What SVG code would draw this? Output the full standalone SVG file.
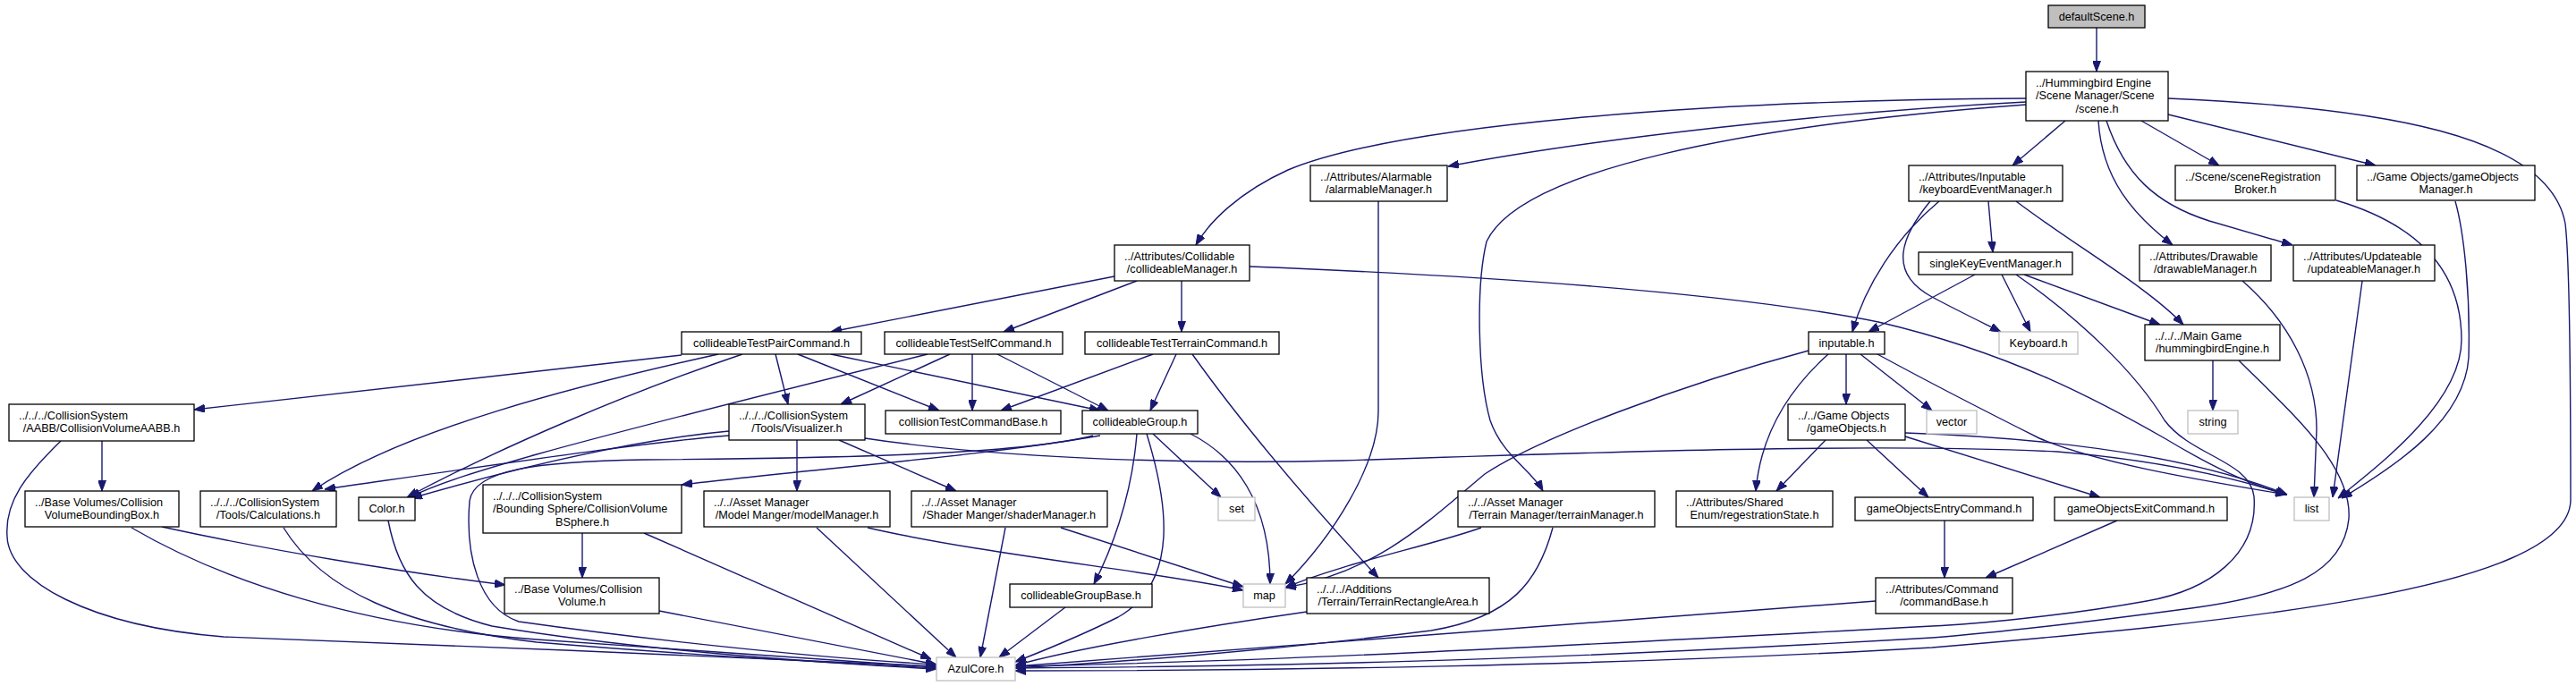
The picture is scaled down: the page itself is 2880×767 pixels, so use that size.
<svg xmlns="http://www.w3.org/2000/svg" width="2880" height="767" viewBox="0 0 2880 767">
<style>
.n rect{fill:#fff;stroke:#000;stroke-width:1.3}
.g rect{fill:#fff;stroke:#bfbfbf;stroke-width:1.3}
.r rect{fill:#bfbfbf;stroke:#000;stroke-width:1.3}
text{font-family:"Liberation Sans",Arial,sans-serif;font-size:12.7px;fill:#000}
.m{text-anchor:middle}
.s{text-anchor:start}
#edges path{fill:none;stroke:#191970;stroke-width:1.4;marker-end:url(#a)}
</style>
<defs>
<marker id="a" viewBox="0 0 12 9" refX="12" refY="4.5" markerWidth="12" markerHeight="9" orient="auto" markerUnits="userSpaceOnUse"><path d="M0,0 L12,4.5 L0,9 z" fill="#191970" stroke="#191970"/></marker>
</defs>
<rect width="2880" height="767" fill="#fff"/>
<g id="edges">
<path d="M2344,31 L2344,80"/>
<path d="M2265,110 C1900,112 1560,140 1440,190 C1385,215 1352,248 1337,274"/>
<path d="M2265,114 C2050,125 1780,155 1619,186"/>
<path d="M2265,117 C1950,140 1700,190 1662,270 C1650,320 1652,420 1666,470 C1680,510 1712,525 1725,549"/>
<path d="M2309,135 L2250,185"/>
<path d="M2346,135 C2350,200 2385,240 2429,274"/>
<path d="M2355,135 C2375,195 2410,228 2470,247 L2563,274"/>
<path d="M2394,135 L2481,185"/>
<path d="M2424,128 L2656,185"/>
<path d="M2424,110 C2660,120 2850,150 2868,250 C2874,300 2874,500 2874,560 C2870,660 2500,695 2160,724 C1800,745 1400,750 1135,750"/>
<path d="M2168,225 C2120,265 2085,320 2071,371"/>
<path d="M2223,225 L2228,282"/>
<path d="M2158,225 C2125,265 2110,305 2160,332 C2190,348 2215,360 2237,371"/>
<path d="M2254,225 C2320,275 2400,320 2441,363"/>
<path d="M2208,307 L2089,371"/>
<path d="M2238,307 L2270,371"/>
<path d="M2263,307 L2415,363"/>
<path d="M2254,307 C2330,360 2390,420 2420,470 C2450,510 2515,515 2520,555 C2525,620 2470,660 2400,672 C2300,690 2200,698 2160,700 C1700,725 1400,740 1135,745"/>
<path d="M2474,403 L2474,459"/>
<path d="M2503,403 C2560,460 2630,520 2626,580 C2620,640 2560,665 2450,680 C2300,700 2200,710 2160,713 C1700,740 1400,745 1135,747"/>
<path d="M2064,396 L2064,452"/>
<path d="M2080,396 L2160,459"/>
<path d="M2099,396 C2180,440 2240,470 2280,490 C2350,520 2480,540 2556,553"/>
<path d="M2022,392 C1880,430 1720,490 1660,530 C1600,580 1540,640 1437,657"/>
<path d="M2044,396 C1995,440 1968,490 1963,549"/>
<path d="M2041,492 L1986,549"/>
<path d="M2087,492 L2156,556"/>
<path d="M2130,488 L2348,556"/>
<path d="M2130,484 C2300,490 2450,510 2557,553"/>
<path d="M1246,309 L929,371"/>
<path d="M1271,314 L1122,371"/>
<path d="M1321,314 L1321,371"/>
<path d="M1397,298 C1700,310 1950,330 2100,360 C2250,395 2350,450 2420,490 C2470,520 2510,540 2556,553"/>
<path d="M867,396 L881,452"/>
<path d="M892,396 L1050,459"/>
<path d="M929,396 L1230,459"/>
<path d="M762,397 L217,458"/>
<path d="M803,396 C650,430 450,480 349,549"/>
<path d="M830,396 C700,440 560,500 455,556"/>
<path d="M1062,396 L940,452"/>
<path d="M1087,396 L1087,459"/>
<path d="M1115,396 L1239,459"/>
<path d="M1037,396 C900,430 700,480 600,508 C540,525 490,540 458,556"/>
<path d="M1289,396 L1119,459"/>
<path d="M1315,396 L1286,459"/>
<path d="M1333,396 C1400,490 1480,580 1541,646"/>
<path d="M891,492 L891,549"/>
<path d="M938,492 L1069,549"/>
<path d="M967,490 C1100,510 1300,520 1500,515 C1800,505 2100,495 2300,505 C2420,515 2500,535 2557,553"/>
<path d="M815,487 C720,495 620,510 363,547"/>
<path d="M815,482 C750,488 640,505 460,557"/>
<path d="M1230,487 C1100,510 900,525 762,542"/>
<path d="M1222,487 C1150,505 1000,512 720,514 C600,516 530,525 525,560 C520,620 535,680 580,695 C700,712 900,735 1047,743"/>
<path d="M1271,485 C1265,560 1240,620 1223,653"/>
<path d="M1282,485 C1305,560 1320,650 1250,690 C1200,715 1160,730 1135,740"/>
<path d="M1289,485 L1365,556"/>
<path d="M1331,485 C1380,510 1420,560 1420,653"/>
<path d="M114,493 L114,549"/>
<path d="M68,493 C30,530 5,560 8,600 C10,650 100,700 250,712 C500,720 800,735 1047,745"/>
<path d="M181,589 C300,615 450,640 565,654"/>
<path d="M147,590 C250,650 400,700 600,715 C800,730 950,740 1047,746"/>
<path d="M317,590 C360,660 450,700 600,718 C800,735 950,742 1047,747"/>
<path d="M434,582 C445,640 470,680 550,700 C700,725 900,740 1047,748"/>
<path d="M651,596 L651,646"/>
<path d="M720,596 L1041,737"/>
<path d="M737,683 L1047,743"/>
<path d="M913,590 L1069,735"/>
<path d="M970,590 C1100,620 1300,640 1390,660"/>
<path d="M1124,590 L1096,735"/>
<path d="M1186,590 L1390,656"/>
<path d="M1191,679 L1117,735"/>
<path d="M1656,590 C1600,610 1500,630 1437,657"/>
<path d="M1736,590 C1720,650 1690,690 1600,705 C1400,730 1250,740 1135,747"/>
<path d="M1461,684 C1350,700 1200,725 1135,744"/>
<path d="M2097,672 C1800,695 1500,715 1135,745"/>
<path d="M2174,582 L2174,646"/>
<path d="M2367,582 L2220,646"/>
<path d="M1541,225 L1541,460 C1541,520 1490,600 1437,653"/>
<path d="M2507,314 C2560,360 2590,420 2590,480 L2587,556"/>
<path d="M2641,314 L2608,556"/>
<path d="M2612,224 C2700,250 2752,300 2752,380 C2752,450 2660,520 2614,557"/>
<path d="M2745,225 C2755,260 2762,330 2760,400 C2755,470 2680,520 2618,557"/>
</g>
<g id="defaultScene" class="r"><rect x="2290" y="6" width="108" height="25"/><text class="m" x="2344" y="22.5">defaultScene.h</text></g>
<g id="scene" class="n"><rect x="2265" y="80" width="159" height="55"/><text class="s" x="2276" y="96.5">../Hummingbird Engine</text><text class="s" x="2276" y="111">/Scene Manager/Scene</text><text class="m" x="2344.5" y="126">/scene.h</text></g>
<g id="collideableManager" class="n"><rect x="1246" y="274" width="151" height="40"/><text class="s" x="1257" y="290.5">../Attributes/Collidable</text><text class="m" x="1321.5" y="305">/collideableManager.h</text></g>
<g id="alarmableManager" class="n"><rect x="1465" y="185" width="153" height="40"/><text class="s" x="1476" y="201.5">../Attributes/Alarmable</text><text class="m" x="1541.5" y="216">/alarmableManager.h</text></g>
<g id="keyboardEventManager" class="n"><rect x="2134" y="185" width="172" height="40"/><text class="s" x="2145" y="201.5">../Attributes/Inputable</text><text class="m" x="2220" y="216">/keyboardEventManager.h</text></g>
<g id="sceneRegistrationBroker" class="n"><rect x="2432" y="185" width="179" height="39"/><text class="s" x="2443" y="201.5">../Scene/sceneRegistration</text><text class="m" x="2521.5" y="216">Broker.h</text></g>
<g id="gameObjectsManager" class="n"><rect x="2635" y="185" width="199" height="39"/><text class="s" x="2646" y="201.5">../Game Objects/gameObjects</text><text class="m" x="2734.5" y="216">Manager.h</text></g>
<g id="drawableManager" class="n"><rect x="2392" y="274" width="147" height="40"/><text class="s" x="2403" y="290.5">../Attributes/Drawable</text><text class="m" x="2465.5" y="305">/drawableManager.h</text></g>
<g id="updateableManager" class="n"><rect x="2564" y="274" width="158" height="40"/><text class="s" x="2575" y="290.5">../Attributes/Updateable</text><text class="m" x="2643" y="305">/updateableManager.h</text></g>
<g id="singleKeyEventManager" class="n"><rect x="2145" y="282" width="172" height="25"/><text class="m" x="2231" y="298.5">singleKeyEventManager.h</text></g>
<g id="inputable" class="n"><rect x="2022" y="371" width="85" height="25"/><text class="m" x="2064.5" y="387.5">inputable.h</text></g>
<g id="Keyboard" class="g"><rect x="2235" y="371" width="88" height="25"/><text class="m" x="2279" y="387.5">Keyboard.h</text></g>
<g id="hummingbirdEngine" class="n"><rect x="2398" y="363" width="151" height="40"/><text class="s" x="2409" y="379.5">../../../Main Game</text><text class="m" x="2473.5" y="394">/hummingbirdEngine.h</text></g>
<g id="string" class="g"><rect x="2446" y="459" width="56" height="26"/><text class="m" x="2474" y="476">string</text></g>
<g id="vector" class="g"><rect x="2154" y="459" width="56" height="26"/><text class="m" x="2182" y="476">vector</text></g>
<g id="gameObjects" class="n"><rect x="1999" y="452" width="131" height="40"/><text class="s" x="2010" y="468.5">../../Game Objects</text><text class="m" x="2064.5" y="483">/gameObjects.h</text></g>
<g id="collideableTestPairCommand" class="n"><rect x="762" y="371" width="201" height="25"/><text class="m" x="862.5" y="387.5">collideableTestPairCommand.h</text></g>
<g id="collideableTestSelfCommand" class="n"><rect x="989" y="371" width="199" height="25"/><text class="m" x="1088.5" y="387.5">collideableTestSelfCommand.h</text></g>
<g id="collideableTestTerrainCommand" class="n"><rect x="1213" y="371" width="217" height="25"/><text class="m" x="1321.5" y="387.5">collideableTestTerrainCommand.h</text></g>
<g id="CollisionVolumeAABB" class="n"><rect x="10" y="452" width="207" height="41"/><text class="s" x="21" y="468.5">../../../CollisionSystem</text><text class="m" x="113.5" y="483">/AABB/CollisionVolumeAABB.h</text></g>
<g id="Visualizer" class="n"><rect x="815" y="452" width="152" height="40"/><text class="s" x="826" y="468.5">../../../CollisionSystem</text><text class="m" x="891" y="483">/Tools/Visualizer.h</text></g>
<g id="collisionTestCommandBase" class="n"><rect x="990" y="459" width="196" height="26"/><text class="m" x="1088" y="476">collisionTestCommandBase.h</text></g>
<g id="collideableGroup" class="n"><rect x="1210" y="459" width="129" height="26"/><text class="m" x="1274.5" y="476">collideableGroup.h</text></g>
<g id="CollisionVolumeBoundingBox" class="n"><rect x="28" y="549" width="172" height="40"/><text class="s" x="39" y="565.5">../Base Volumes/Collision</text><text class="m" x="114" y="580">VolumeBoundingBox.h</text></g>
<g id="Calculations" class="n"><rect x="224" y="549" width="152" height="40"/><text class="s" x="235" y="565.5">../../../CollisionSystem</text><text class="m" x="300" y="580">/Tools/Calculations.h</text></g>
<g id="Color" class="n"><rect x="401" y="556" width="63" height="26"/><text class="m" x="432.5" y="573">Color.h</text></g>
<g id="CollisionVolumeBSphere" class="n"><rect x="540" y="542" width="222" height="54"/><text class="s" x="551" y="558.5">../../../CollisionSystem</text><text class="s" x="551" y="573">/Bounding Sphere/CollisionVolume</text><text class="m" x="651" y="587.5">BSphere.h</text></g>
<g id="modelManager" class="n"><rect x="787" y="549" width="208" height="40"/><text class="s" x="798" y="565.5">../../Asset Manager</text><text class="m" x="891" y="580">/Model Manger/modelManager.h</text></g>
<g id="shaderManager" class="n"><rect x="1019" y="549" width="219" height="40"/><text class="s" x="1030" y="565.5">../../Asset Manager</text><text class="m" x="1128.5" y="580">/Shader Manger/shaderManager.h</text></g>
<g id="set" class="g"><rect x="1362" y="556" width="41" height="26"/><text class="m" x="1382.5" y="573">set</text></g>
<g id="terrainManager" class="n"><rect x="1630" y="549" width="220" height="40"/><text class="s" x="1641" y="565.5">../../Asset Manager</text><text class="m" x="1740" y="580">/Terrain Manager/terrainManager.h</text></g>
<g id="regestrationState" class="n"><rect x="1874" y="549" width="175" height="40"/><text class="s" x="1885" y="565.5">../Attributes/Shared</text><text class="m" x="1961.5" y="580">Enum/regestrationState.h</text></g>
<g id="gameObjectsEntryCommand" class="n"><rect x="2074" y="556" width="199" height="26"/><text class="m" x="2173.5" y="573">gameObjectsEntryCommand.h</text></g>
<g id="gameObjectsExitCommand" class="n"><rect x="2297" y="556" width="193" height="26"/><text class="m" x="2393.5" y="573">gameObjectsExitCommand.h</text></g>
<g id="list" class="g"><rect x="2565" y="556" width="39" height="26"/><text class="m" x="2584.5" y="573">list</text></g>
<g id="CollisionVolume" class="n"><rect x="564" y="646" width="173" height="40"/><text class="s" x="575" y="662.5">../Base Volumes/Collision</text><text class="m" x="650.5" y="677">Volume.h</text></g>
<g id="collideableGroupBase" class="n"><rect x="1129" y="653" width="159" height="26"/><text class="m" x="1208.5" y="670">collideableGroupBase.h</text></g>
<g id="map" class="g"><rect x="1390" y="653" width="47" height="26"/><text class="m" x="1413.5" y="670">map</text></g>
<g id="TerrainRectangleArea" class="n"><rect x="1461" y="646" width="204" height="40"/><text class="s" x="1472" y="662.5">../../../Additions</text><text class="m" x="1563" y="677">/Terrain/TerrainRectangleArea.h</text></g>
<g id="commandBase" class="n"><rect x="2097" y="646" width="153" height="40"/><text class="s" x="2108" y="662.5">../Attributes/Command</text><text class="m" x="2173.5" y="677">/commandBase.h</text></g>
<g id="AzulCore" class="g"><rect x="1047" y="735" width="88" height="26"/><text class="m" x="1091" y="752">AzulCore.h</text></g>
</svg>
